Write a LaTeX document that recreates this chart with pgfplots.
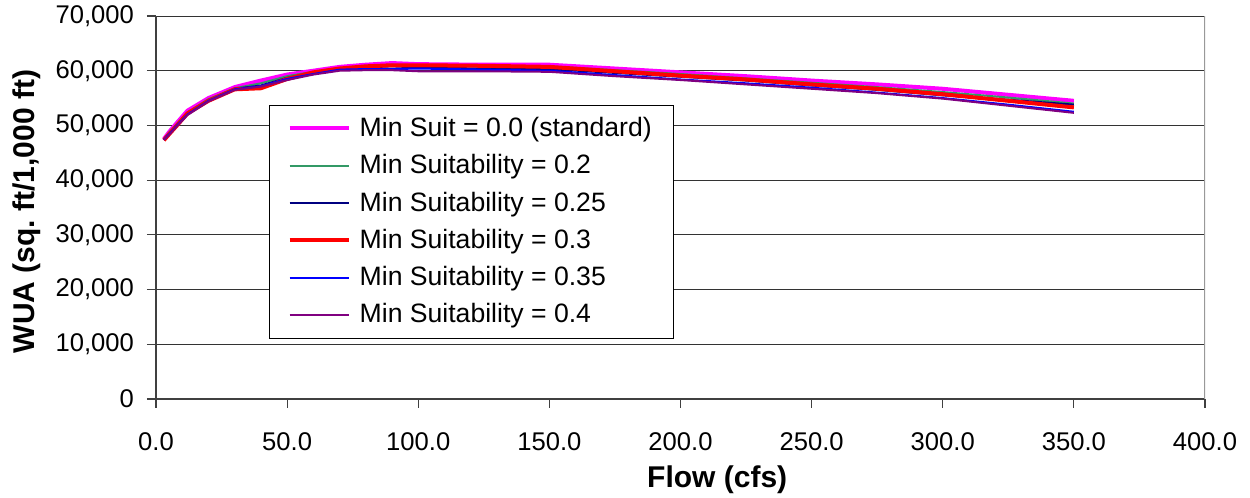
\documentclass[border=0pt]{standalone}
\usepackage{pgfplots}
\pgfplotsset{compat=1.18}
\usepackage{fontspec}
\setmainfont{Liberation Sans}
\frenchspacing
\definecolor{cmag}{RGB}{255,0,255}
\definecolor{cgreen}{RGB}{51,153,102}
\definecolor{cnavy}{RGB}{0,0,128}
\definecolor{cred}{RGB}{255,0,0}
\definecolor{cblue}{RGB}{0,0,255}
\definecolor{cpurple}{RGB}{128,0,128}
\begin{document}
\begin{tikzpicture}
\useasboundingbox (-78pt,-49.5pt) rectangle (547pt,199.5pt);
\begin{axis}[
  at={(0,0)}, anchor=south west,
  scale only axis, width=524.5pt, height=191.5pt,
  xmin=0, xmax=400, ymin=0, ymax=70000,
  xtick={0,50,...,400}, ytick={0,10000,...,70000},
  axis x line*=bottom, axis y line*=left,
  axis line style={draw=black!75, line width=0.75pt},
  tick align=outside, major tick length=4.5pt,
  tick style={draw=black!75, line width=0.6pt},
  ymajorgrids, major grid style={draw=black!80, line width=0.5pt},
  /pgf/number format/assume math mode=true,
  ticklabel style={font=\fontsize{12.8}{14}\selectfont},
  xticklabel style={yshift=-9pt, /pgf/number format/.cd, fixed, fixed zerofill, precision=1},
  yticklabel style={xshift=-3pt, /pgf/number format/.cd, fixed, 1000 sep={,}},
  scaled ticks=false,
  xlabel={Flow (cfs)}, ylabel={WUA (sq. ft/1,000 ft)},
  label style={font=\bfseries\fontsize{15}{17}\selectfont},
  xlabel style={at={(axis description cs:0.535,-0.212)}, anchor=center},
  ylabel style={at={(axis description cs:-0.123,0.49)}, anchor=center},
  legend style={at={(0.108,0.768)}, anchor=north west, draw=black,
    font=\fontsize{13.3}{15}\selectfont, row sep=3.5pt, inner xsep=9pt, inner ysep=4pt,
    cells={anchor=west}},
  legend image code/.code={\draw[#1] (0pt,0pt) -- (29.5pt,0pt); \path (32pt,0pt);},
  legend cell align=left,
]
\addplot[draw=cmag, line width=2pt] coordinates {(3,47500)(5,48800)(8,50500)(12,52700)(20,55000)(30,57000)(40,58200)(50,59300)(60,60000)(70,60700)(80,61100)(90,61400)(100,61200)(125,61100)(150,61100)(175,60400)(200,59700)(225,59000)(250,58200)(275,57500)(300,56700)(325,55600)(350,54500)};
\addlegendentry{Min Suit = 0.0 (standard)}
\addplot[draw=cgreen, line width=1pt] coordinates {(3,47500)(5,48700)(8,50300)(12,52400)(20,54800)(30,56800)(40,57700)(50,59000)(60,59800)(70,60500)(80,60900)(90,61100)(100,61000)(125,60900)(150,60800)(175,60100)(200,59400)(225,58600)(250,57800)(275,57000)(300,56100)(325,55100)(350,54000)};
\addlegendentry{Min Suitability = 0.2}
\addplot[draw=cnavy, line width=1pt] coordinates {(3,47400)(5,48500)(8,50100)(12,52200)(20,54600)(30,56700)(40,57300)(50,58700)(60,59600)(70,60300)(80,60600)(90,60800)(100,60600)(125,60400)(150,60300)(175,59600)(200,58900)(225,58200)(250,57300)(275,56500)(300,55500)(325,54700)(350,53800)};
\addlegendentry{Min Suitability = 0.25}
\addplot[draw=cred, line width=2pt] coordinates {(3,47300)(5,48400)(8,50000)(12,52200)(20,54500)(30,56600)(40,56800)(50,58500)(60,59700)(70,60400)(80,60800)(90,61000)(100,61000)(125,60900)(150,60700)(175,59900)(200,59100)(225,58400)(250,57500)(275,56700)(300,55700)(325,54500)(350,53300)};
\addlegendentry{Min Suitability = 0.3}
\addplot[draw=cblue, line width=1pt] coordinates {(3,47400)(5,48400)(8,50000)(12,52000)(20,54500)(30,56600)(40,57200)(50,58500)(60,59400)(70,60200)(80,60300)(90,60300)(100,60400)(125,60200)(150,60000)(175,59200)(200,58400)(225,57700)(250,56900)(275,56000)(300,55000)(325,53800)(350,52500)};
\addlegendentry{Min Suitability = 0.35}
\addplot[draw=cpurple, line width=1pt] coordinates {(3,47400)(5,48300)(8,49900)(12,51900)(20,54400)(30,56500)(40,57100)(50,58300)(60,59300)(70,60000)(80,60100)(90,60100)(100,59900)(125,59900)(150,59800)(175,59000)(200,58300)(225,57500)(250,56700)(275,55900)(300,54900)(325,53600)(350,52300)};
\addlegendentry{Min Suitability = 0.4}
\draw[draw=black!40, line width=1pt] (rel axis cs:1,0) -- (rel axis cs:1,1);
\end{axis}
\end{tikzpicture}
\end{document}
